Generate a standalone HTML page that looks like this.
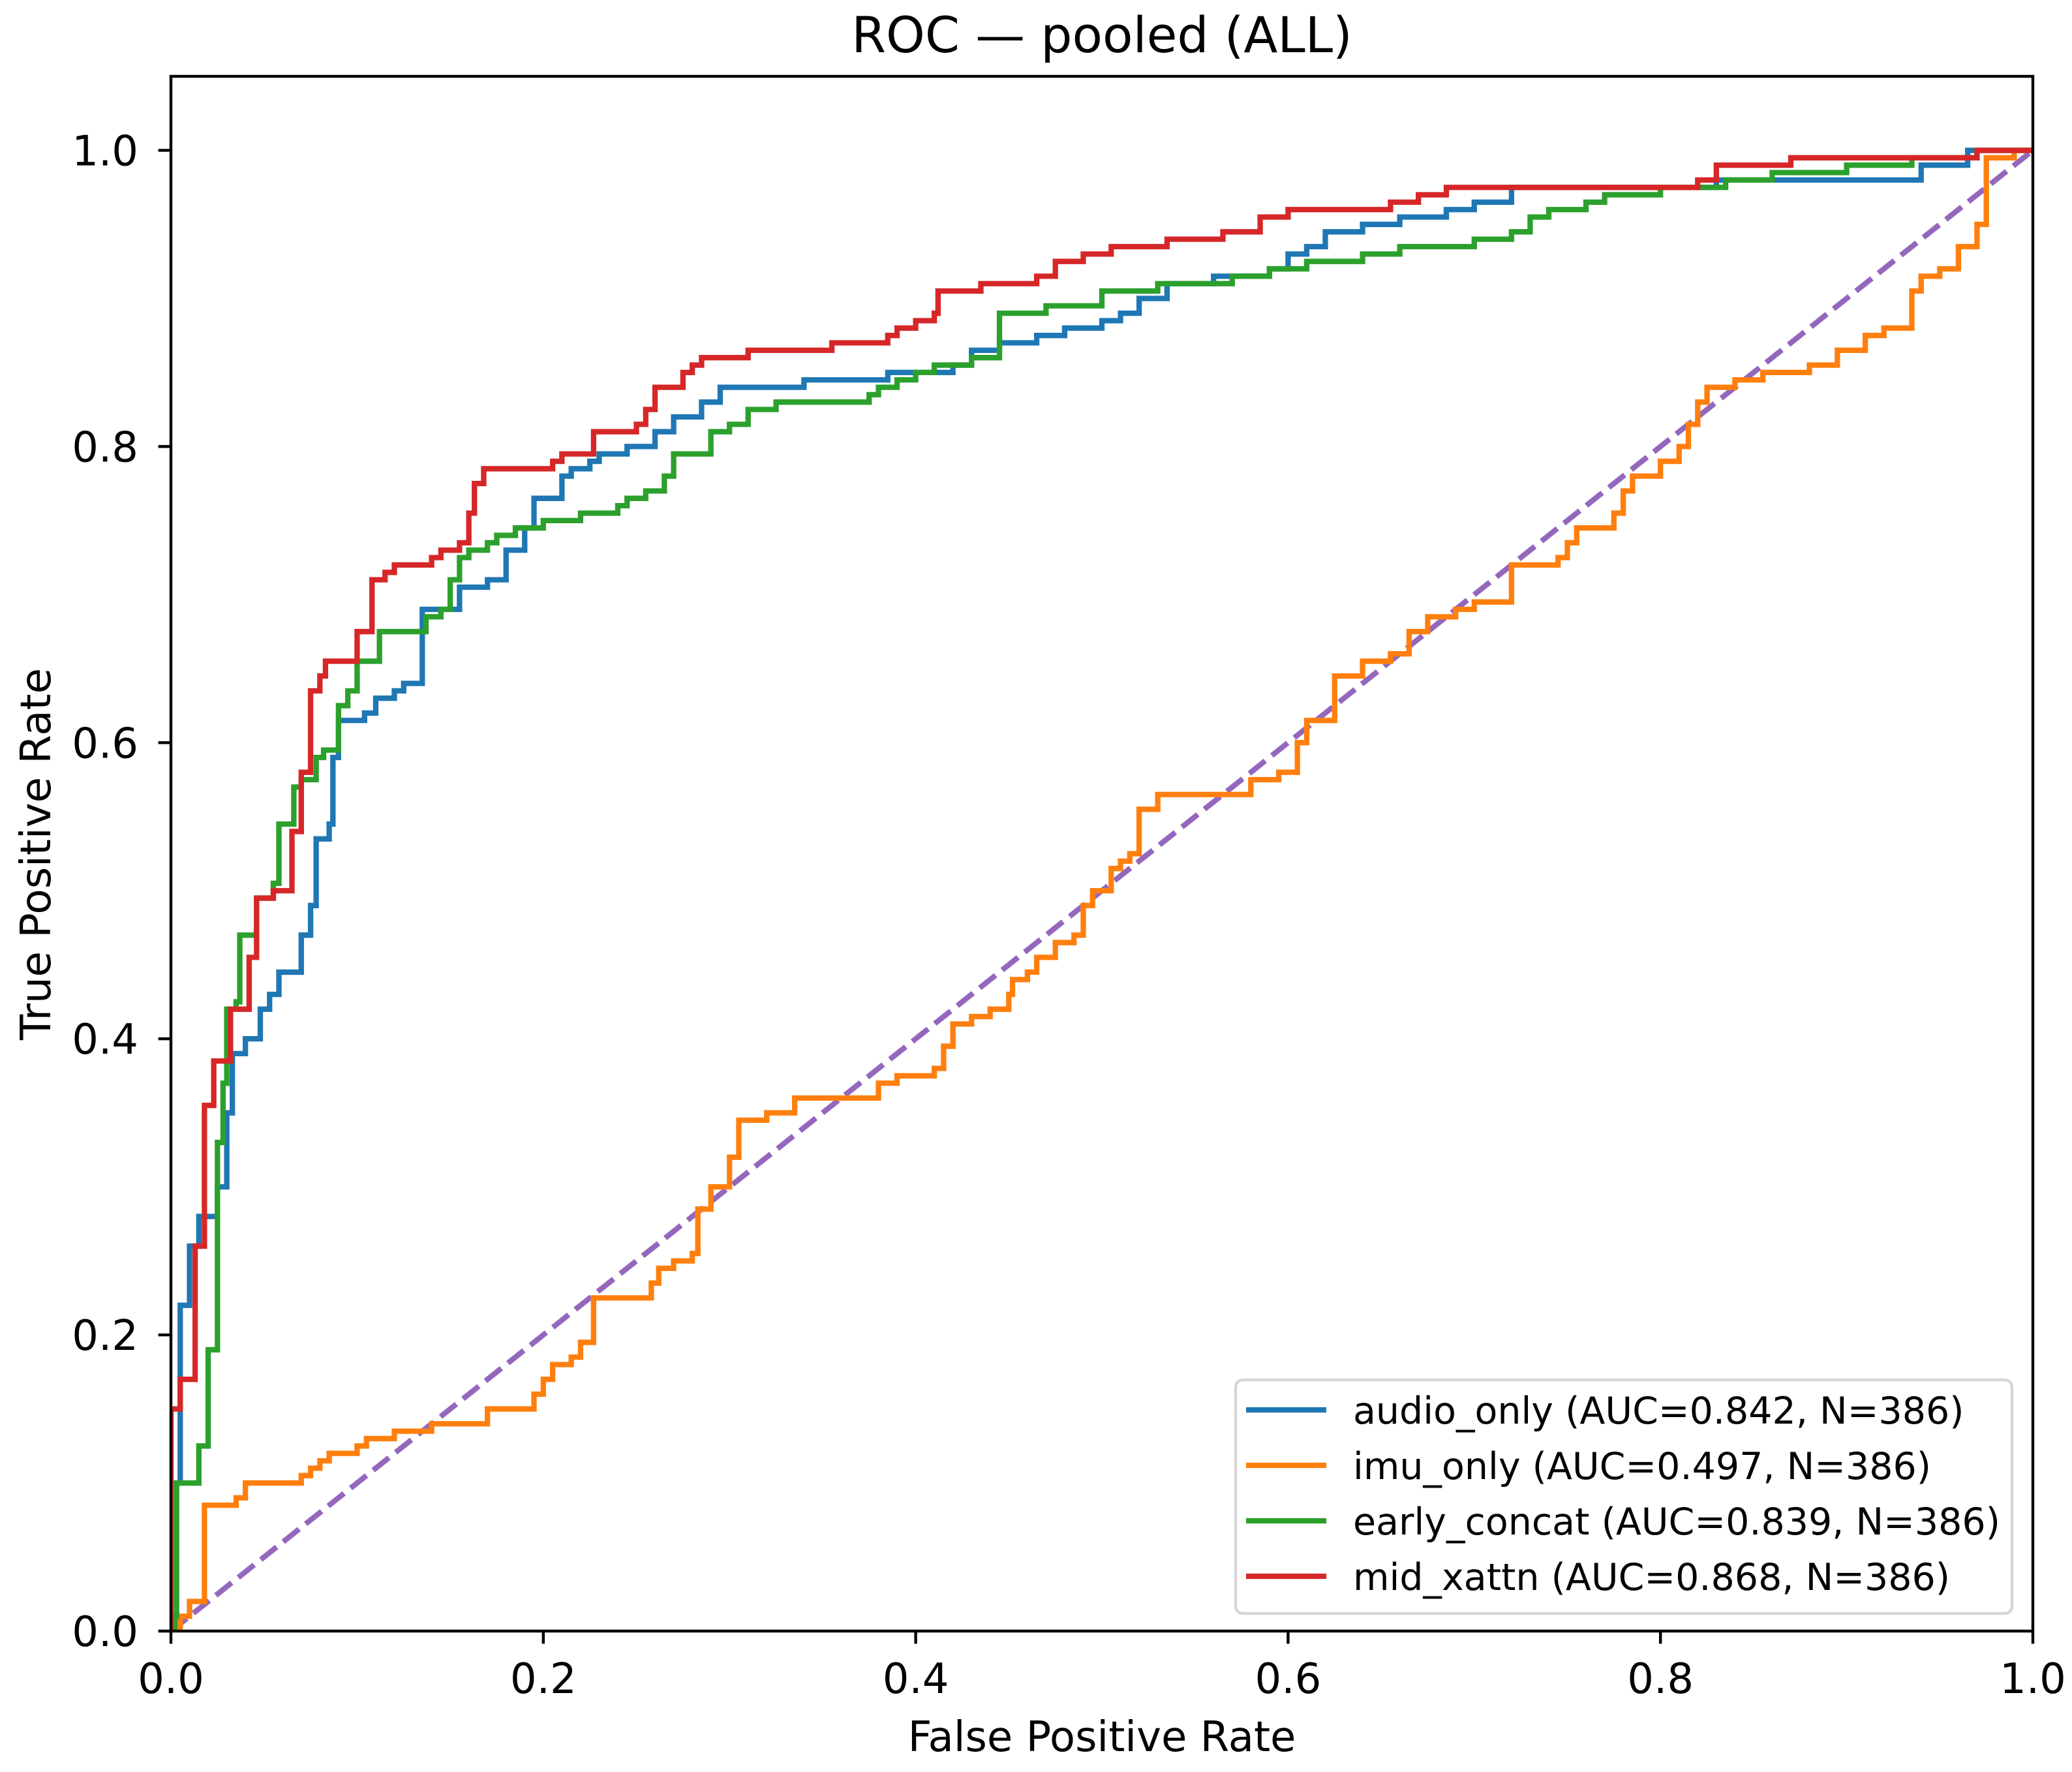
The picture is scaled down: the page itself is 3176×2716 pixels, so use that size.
<!DOCTYPE html>
<html><head><meta charset="utf-8"><style>
html,body{margin:0;padding:0;background:#fff;}
svg text{font-family:"DejaVu Sans","Liberation Sans",sans-serif;fill:#000;}
</style></head><body>
<svg id="chart" xmlns="http://www.w3.org/2000/svg" width="3176" height="2711" viewBox="0 0 3176 2711">
<rect x="0" y="0" width="3176" height="2711" fill="#fff"/>
<g id="plot"></g>
<g id="axes"></g>
<text x="1689" y="80" font-size="76" text-anchor="middle">ROC — pooled (ALL)</text>
<text x="1689" y="2684" font-size="64" text-anchor="middle">False Positive Rate</text>
<text x="0" y="0" font-size="64" text-anchor="middle" transform="translate(77,1309) rotate(-90)">True Positive Rate</text>
<g id="legend"></g>
</svg>
<script>
const xTicks = [0, 0.2, 0.4, 0.6, 0.8, 1.0];
const yTicks = [0, 0.2, 0.4, 0.6, 0.8, 1.0];
const tickLabels = ["0.0","0.2","0.4","0.6","0.8","1.0"];
const seriesNames = ["audio_only (AUC=0.842, N=386)","imu_only (AUC=0.497, N=386)","early_concat (AUC=0.839, N=386)","mid_xattn (AUC=0.868, N=386)"];
const seriesColors = ["#1f77b4","#ff7f0e","#2ca02c","#d62728"];
const audioFpr = [0,0.003,0.005,0.01,0.015,0.025,0.03,0.033,0.04,0.048,0.053,0.058,0.07,0.075,0.078,0.085,0.087,0.09,0.104,0.11,0.12,0.125,0.135,0.155,0.17,0.18,0.19,0.195,0.21,0.215,0.225,0.23,0.245,0.26,0.27,0.285,0.295,0.34,0.385,0.42,0.43,0.445,0.465,0.48,0.5,0.51,0.52,0.535,0.56,0.59,0.6,0.61,0.62,0.64,0.66,0.685,0.7,0.72,0.83,0.94,0.965];
const audioTpr = [0,0.1,0.22,0.26,0.28,0.3,0.35,0.39,0.40,0.42,0.43,0.445,0.47,0.49,0.535,0.545,0.59,0.615,0.62,0.63,0.635,0.64,0.69,0.705,0.71,0.73,0.745,0.765,0.78,0.785,0.79,0.795,0.80,0.81,0.82,0.83,0.84,0.845,0.85,0.855,0.865,0.87,0.875,0.88,0.885,0.89,0.90,0.91,0.915,0.92,0.93,0.935,0.945,0.95,0.955,0.96,0.965,0.975,0.98,0.99,1.0];
const imuFpr = [0,0.005,0.01,0.018,0.035,0.04,0.07,0.075,0.08,0.085,0.1,0.105,0.12,0.14,0.17,0.195,0.2,0.205,0.215,0.22,0.227,0.258,0.262,0.27,0.28,0.283,0.29,0.3,0.305,0.32,0.335,0.38,0.39,0.41,0.415,0.42,0.43,0.44,0.45,0.452,0.46,0.465,0.475,0.485,0.49,0.495,0.505,0.51,0.515,0.52,0.53,0.58,0.595,0.605,0.61,0.625,0.64,0.655,0.665,0.675,0.69,0.7,0.72,0.745,0.75,0.755,0.775,0.78,0.785,0.8,0.81,0.815,0.82,0.825,0.84,0.855,0.88,0.895,0.91,0.92,0.935,0.94,0.95,0.96,0.97,0.975,0.99];
const imuTpr = [0,0.01,0.02,0.085,0.09,0.1,0.105,0.11,0.115,0.12,0.125,0.13,0.135,0.14,0.15,0.16,0.17,0.18,0.185,0.195,0.225,0.235,0.245,0.25,0.255,0.285,0.3,0.32,0.345,0.35,0.36,0.37,0.375,0.38,0.395,0.41,0.415,0.42,0.43,0.44,0.445,0.455,0.465,0.47,0.49,0.5,0.515,0.52,0.525,0.555,0.565,0.575,0.58,0.6,0.615,0.645,0.655,0.66,0.675,0.685,0.69,0.695,0.72,0.725,0.735,0.745,0.755,0.77,0.78,0.79,0.8,0.815,0.83,0.84,0.845,0.85,0.855,0.865,0.875,0.88,0.905,0.915,0.92,0.935,0.95,0.995,1.0];
const earlyFpr = [0,0.002,0.003,0.015,0.02,0.025,0.028,0.03,0.035,0.037,0.046,0.055,0.058,0.066,0.07,0.078,0.082,0.09,0.095,0.1,0.112,0.137,0.145,0.15,0.155,0.16,0.17,0.175,0.185,0.2,0.22,0.24,0.245,0.255,0.265,0.27,0.29,0.3,0.31,0.325,0.375,0.38,0.39,0.4,0.41,0.43,0.445,0.47,0.5,0.53,0.57,0.59,0.61,0.64,0.66,0.7,0.72,0.73,0.74,0.76,0.77,0.8,0.835,0.86,0.9,0.935,0.97];
const earlyTpr = [0,0.01,0.1,0.125,0.19,0.33,0.37,0.42,0.425,0.47,0.495,0.505,0.545,0.57,0.575,0.59,0.595,0.625,0.635,0.655,0.675,0.685,0.69,0.71,0.725,0.73,0.735,0.74,0.745,0.75,0.755,0.76,0.765,0.77,0.78,0.795,0.81,0.815,0.825,0.83,0.835,0.84,0.845,0.85,0.855,0.86,0.89,0.895,0.905,0.91,0.915,0.92,0.925,0.93,0.935,0.94,0.945,0.955,0.96,0.965,0.97,0.975,0.98,0.985,0.99,0.995,1.0];
const midFpr = [0,0.0,0.005,0.013,0.018,0.023,0.032,0.042,0.046,0.055,0.065,0.07,0.075,0.08,0.083,0.1,0.108,0.115,0.12,0.14,0.145,0.155,0.16,0.163,0.168,0.205,0.21,0.227,0.25,0.255,0.26,0.275,0.28,0.285,0.31,0.355,0.385,0.39,0.4,0.41,0.412,0.435,0.465,0.475,0.49,0.505,0.535,0.565,0.585,0.6,0.655,0.67,0.685,0.82,0.83,0.87,0.97];
const midTpr = [0,0.15,0.17,0.26,0.355,0.385,0.42,0.455,0.495,0.5,0.54,0.58,0.635,0.645,0.655,0.675,0.71,0.715,0.72,0.725,0.73,0.735,0.755,0.775,0.785,0.79,0.795,0.81,0.815,0.825,0.84,0.85,0.855,0.86,0.865,0.87,0.875,0.88,0.885,0.89,0.905,0.91,0.915,0.925,0.93,0.935,0.94,0.945,0.955,0.96,0.965,0.97,0.975,0.98,0.99,0.995,1.0];

const NS="http://www.w3.org/2000/svg";
const L=262,R=3116,T=117,B=2500;
const LW=8.3, AW=4.4, TL=19.4;
const sx=v=>L+v*(R-L);
const sy=v=>B-v/1.05*(B-T);
function mk(tag,attrs,parent){const e=document.createElementNS(NS,tag);for(const k in attrs)e.setAttribute(k,attrs[k]);parent.appendChild(e);return e;}
const plot=document.getElementById('plot');
const axes=document.getElementById('axes');
const legend=document.getElementById('legend');

const cp=mk('clipPath',{id:'clip'},plot);
mk('rect',{x:L,y:T,width:R-L,height:B-T},cp);

const diag=mk('line',{x1:sx(0),y1:sy(0),x2:sx(1),y2:sy(1),stroke:'#9467bd','stroke-width':LW,'stroke-dasharray':'31 13','clip-path':'url(#clip)'},plot);



function stepPath(fx,ty){let d='M'+sx(fx[0])+','+sy(ty[0]);let py=ty[0];for(let i=1;i<fx.length;i++){d+=' L'+sx(fx[i])+','+sy(py)+' L'+sx(fx[i])+','+sy(ty[i]);py=ty[i];}d+=' L'+sx(1)+','+sy(1);return d;}
const all=[[audioFpr,audioTpr,'audio-only-curve'],[imuFpr,imuTpr,'imu-only-curve'],[earlyFpr,earlyTpr,'early-concat-curve'],[midFpr,midTpr,'mid-xattn-curve']];
all.forEach((s,i)=>{const p=mk('path',{d:stepPath(s[0],s[1]),fill:'none',stroke:seriesColors[i],'stroke-width':LW,'stroke-linejoin':'miter','clip-path':'url(#clip)'},plot);

});

const frame=mk('rect',{x:L,y:T,width:R-L,height:B-T,fill:'none',stroke:'#000','stroke-width':AW},axes);


xTicks.forEach((v,i)=>{const t=mk('line',{x1:sx(v),y1:B,x2:sx(v),y2:B+TL,stroke:'#000','stroke-width':AW},axes);


const tx=mk('text',{x:sx(v),y:2595,'font-size':64,'text-anchor':'middle'},axes);tx.textContent=tickLabels[i];

});
yTicks.forEach((v,i)=>{const t=mk('line',{x1:L-TL,y1:sy(v),x2:L,y2:sy(v),stroke:'#000','stroke-width':AW},axes);


const tx=mk('text',{x:212,y:sy(v)+23,'font-size':64,'text-anchor':'end'},axes);tx.textContent=tickLabels[i];

});

const lb=mk('rect',{x:1894,y:2115,width:1190,height:358,rx:11,fill:'#fff','fill-opacity':0.8,stroke:'#d6d6d6','stroke-width':4.4},legend);


seriesNames.forEach((n,i)=>{const y=2161+i*85;
const ln=mk('line',{x1:1910,y1:y,x2:2033,y2:y,stroke:seriesColors[i],'stroke-width':LW},legend);


const tx=mk('text',{x:2074,y:y+21,'font-size':57},legend);tx.textContent=n;

});
</script>
</body></html>
